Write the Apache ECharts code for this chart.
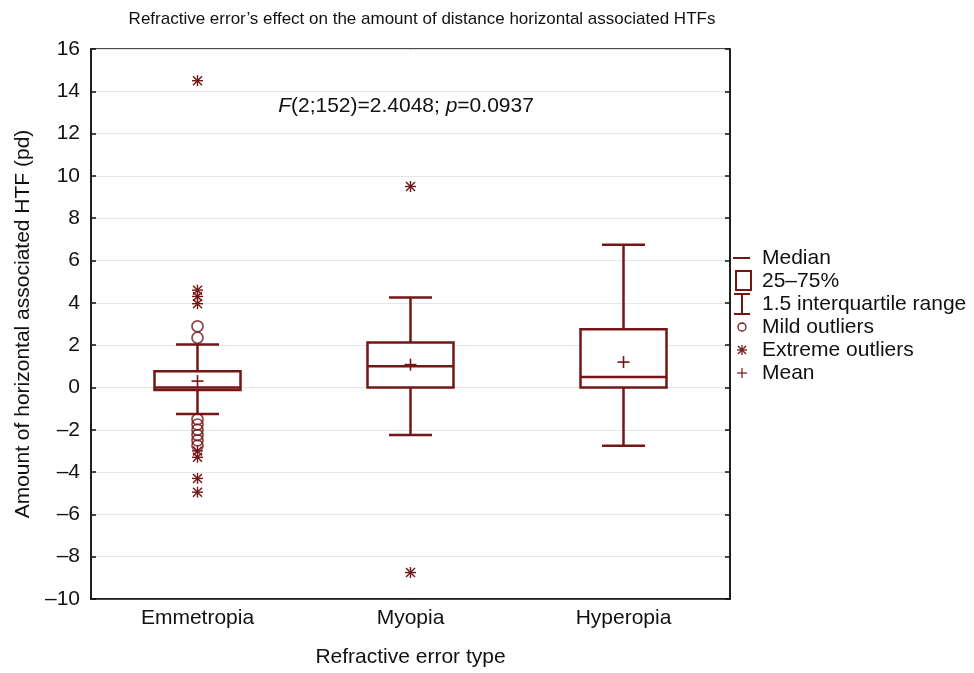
<!DOCTYPE html>
<html><head><meta charset="utf-8">
<script src="https://cdn.jsdelivr.net/npm/echarts@6/dist/echarts.min.js"></script>
<style>html,body{margin:0;padding:0;background:#fff}#c{width:974px;height:673px}</style>
</head><body><div id="c"></div><script>
const categories = ['Emmetropia', 'Myopia', 'Hyperopia'];
// [lower whisker, Q1, median, Q3, upper whisker]
const boxStats = [
  [-1.25, -0.12, 0.0, 0.77, 2.03],
  [-2.25, 0.0, 1.0, 2.12, 4.25],
  [-2.75, 0.0, 0.5, 2.75, 6.75]
];
const means = [0.3, 1.08, 1.2];
const mildOutliers = [
  [0, 2.89], [0, 2.35], [0, -1.5], [0, -1.75], [0, -2.0], [0, -2.25], [0, -2.5], [0, -2.75]
];
const extremeOutliers = [
  [0, 14.5], [0, 4.6], [0, 4.3], [0, 3.96], [0, -3.0], [0, -3.3], [0, -4.3], [0, -4.95],
  [1, 9.5], [1, -8.75]
];
const yMin = -10, yMax = 16, yStep = 2;
const titleText = 'Refractive error\u2019s effect on the amount of distance horizontal associated HTFs';
const legendLabels = ['Median', '25\u201375%', '1.5 interquartile range', 'Mild outliers', 'Extreme outliers', 'Mean'];

const C = '#741616';
const FONT = '"Liberation Sans", Arial, sans-serif';
const FS = 21;
const chart = echarts.init(document.getElementById('c'), null, {renderer: 'canvas'});

function boxItem(params, api) {
  const x = api.value(0);
  const p = [1,2,3,4,5].map(k => api.coord([x, api.value(k)]));
  const cx = p[0][0];
  const bw = 86, cw = 43;
  const st = {stroke: C, lineWidth: 2.5, fill: null};
  return {type: 'group', children: [
    {type: 'line', shape: {x1: cx, y1: p[0][1], x2: cx, y2: p[1][1]}, style: st},
    {type: 'line', shape: {x1: cx, y1: p[3][1], x2: cx, y2: p[4][1]}, style: st},
    {type: 'line', shape: {x1: cx - cw/2, y1: p[0][1], x2: cx + cw/2, y2: p[0][1]}, style: st},
    {type: 'line', shape: {x1: cx - cw/2, y1: p[4][1], x2: cx + cw/2, y2: p[4][1]}, style: st},
    {type: 'rect', shape: {x: cx - bw/2, y: p[3][1], width: bw, height: p[1][1] - p[3][1]}, style: {stroke: C, lineWidth: 2.5, fill: '#fff'}},
    {type: 'line', shape: {x1: cx - bw/2, y1: p[2][1], x2: cx + bw/2, y2: p[2][1]}, style: st}
  ]};
}
function plusItem(params, api) {
  const p = api.coord([api.value(0), api.value(1)]);
  const s = 6, st = {stroke: C, lineWidth: 1.6};
  return {type: 'group', children: [
    {type: 'line', shape: {x1: p[0]-s, y1: p[1], x2: p[0]+s, y2: p[1]}, style: st},
    {type: 'line', shape: {x1: p[0], y1: p[1]-s, x2: p[0], y2: p[1]+s}, style: st}
  ]};
}
function starItem(params, api) {
  const p = api.coord([api.value(0), api.value(1)]);
  const s = 5.5, d = 4.5, st = {stroke: C, lineWidth: 1.4};
  return {type: 'group', children: [
    {type: 'line', shape: {x1: p[0]-s, y1: p[1], x2: p[0]+s, y2: p[1]}, style: st},
    {type: 'line', shape: {x1: p[0], y1: p[1]-s, x2: p[0], y2: p[1]+s}, style: st},
    {type: 'line', shape: {x1: p[0]-d, y1: p[1]-d, x2: p[0]+d, y2: p[1]+d}, style: st},
    {type: 'line', shape: {x1: p[0]-d, y1: p[1]+d, x2: p[0]+d, y2: p[1]-d}, style: st}
  ]};
}

// legend graphics
const LX = 742, L0 = 258, LS = 23;
const lst = {stroke: C, lineWidth: 2, fill: null};
const lst2 = {stroke: C, lineWidth: 1.3};
const legendIcons = [
  {type: 'line', shape: {x1: LX-9, y1: L0, x2: LX+8, y2: L0}, style: lst},
  {type: 'rect', shape: {x: LX-6, y: L0+LS-10, width: 15, height: 19}, style: lst},
  {type: 'group', children: [
    {type: 'line', shape: {x1: LX, y1: L0+2*LS-10, x2: LX, y2: L0+2*LS+10}, style: lst},
    {type: 'line', shape: {x1: LX-8, y1: L0+2*LS-10, x2: LX+8, y2: L0+2*LS-10}, style: lst},
    {type: 'line', shape: {x1: LX-8, y1: L0+2*LS+10, x2: LX+8, y2: L0+2*LS+10}, style: lst}
  ]},
  {type: 'circle', shape: {cx: LX, cy: L0+3*LS, r: 4}, style: {stroke: C, lineWidth: 1.3, fill: null}},
  {type: 'group', children: [
    {type: 'line', shape: {x1: LX-5, y1: L0+4*LS, x2: LX+5, y2: L0+4*LS}, style: lst2},
    {type: 'line', shape: {x1: LX, y1: L0+4*LS-5, x2: LX, y2: L0+4*LS+5}, style: lst2},
    {type: 'line', shape: {x1: LX-4, y1: L0+4*LS-4, x2: LX+4, y2: L0+4*LS+4}, style: lst2},
    {type: 'line', shape: {x1: LX-4, y1: L0+4*LS+4, x2: LX+4, y2: L0+4*LS-4}, style: lst2}
  ]},
  {type: 'group', children: [
    {type: 'line', shape: {x1: LX-5, y1: L0+5*LS, x2: LX+5, y2: L0+5*LS}, style: {stroke: C, lineWidth: 1.2}},
    {type: 'line', shape: {x1: LX, y1: L0+5*LS-5, x2: LX, y2: L0+5*LS+5}, style: {stroke: C, lineWidth: 1.2}}
  ]}
];
const legendTexts = legendLabels.map((t, i) => ({
  type: 'text', x: 762, y: L0 + i*LS,
  style: {text: t, fill: '#111', font: FS + 'px ' + FONT, textAlign: 'left', textVerticalAlign: 'middle'}
}));

const yFmt = v => String(v).replace('-', '\u2013');
const tickStyle = {color: '#111', width: 1.5};

chart.setOption({
  backgroundColor: '#fff',
  animation: false,
  grid: {left: 91, right: 244, top: 49, bottom: 72, show: true, borderColor: '#111', borderWidth: 1.5, backgroundColor: 'transparent'},
  xAxis: {
    type: 'category', data: categories, boundaryGap: true,
    name: 'Refractive error type', nameLocation: 'middle', nameGap: 48,
    nameTextStyle: {fontFamily: FONT, fontSize: FS, color: '#111'},
    axisLine: {onZero: false, lineStyle: tickStyle},
    axisTick: {alignWithLabel: true, inside: true, length: 5, lineStyle: tickStyle},
    axisLabel: {fontFamily: FONT, fontSize: FS, color: '#111', margin: 9},
    splitLine: {show: false}
  },
  yAxis: [{
    type: 'value', min: yMin, max: yMax, interval: yStep,
    name: 'Amount of horizontal associated HTF (pd)', nameLocation: 'middle', nameGap: 57,
    nameTextStyle: {fontFamily: FONT, fontSize: FS, color: '#111'},
    axisLine: {show: true, onZero: false, lineStyle: tickStyle},
    axisTick: {show: true, inside: true, length: 5, lineStyle: tickStyle},
    axisLabel: {fontFamily: FONT, fontSize: FS, color: '#111', margin: 11, formatter: yFmt},
    splitLine: {show: true, lineStyle: {color: '#e6e6e6', width: 1}}
  }, {
    type: 'value', min: yMin, max: yMax, interval: yStep, position: 'right',
    axisLine: {show: true, onZero: false, lineStyle: tickStyle},
    axisTick: {show: true, inside: true, length: 5, lineStyle: tickStyle},
    axisLabel: {show: false}, splitLine: {show: false}
  }],
  series: [
    {type: 'custom', name: 'box', renderItem: boxItem, z: 3,
     encode: {x: 0, y: [1,2,3,4,5]},
     data: boxStats.map((s, i) => [i].concat(s))},
    {type: 'custom', name: 'mean', renderItem: plusItem, z: 4,
     encode: {x: 0, y: 1},
     data: means.map((m, i) => [i, m])},
    {type: 'scatter', name: 'mild', symbol: 'circle', symbolSize: 11, z: 5,
     itemStyle: {color: 'transparent', borderColor: C, borderWidth: 1.7},
     data: mildOutliers},
    {type: 'custom', name: 'extreme', renderItem: starItem, z: 5,
     encode: {x: 0, y: 1},
     data: extremeOutliers}
  ],
  graphic: [
    {type: 'text', x: 422, y: 19, style: {text: titleText, fill: '#111', font: '17px ' + FONT, textAlign: 'center', textVerticalAlign: 'middle'}},
    {type: 'text', x: 406, y: 106, style: {
      text: '{i|F}(2;152)=2.4048; {i|p}=0.0937', fill: '#111', font: FS + 'px ' + FONT,
      textAlign: 'center', textVerticalAlign: 'middle',
      rich: {i: {fontStyle: 'italic', fontFamily: FONT, fontSize: FS, fill: '#111'}}
    }}
  ].concat(legendIcons, legendTexts)
});
</script></body></html>
